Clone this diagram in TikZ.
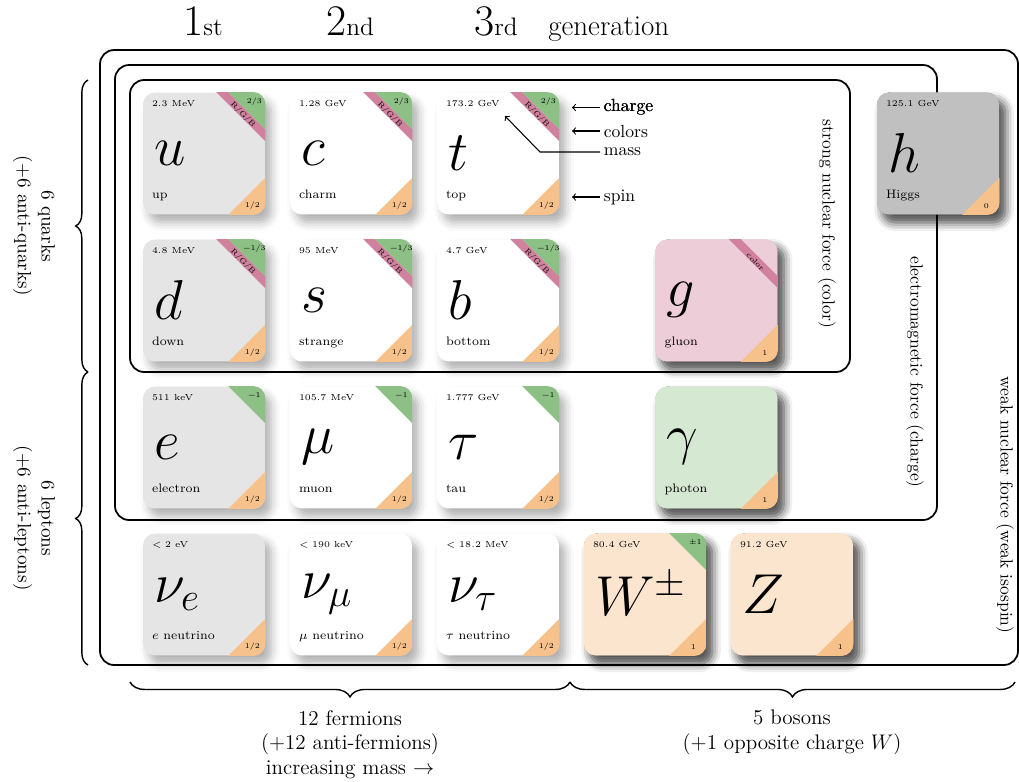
\RequirePackage{fix-cm}
\documentclass[tikz,border=0pt]{standalone}
\usepackage{tikz}
\usetikzlibrary{calc,shadows.blur,decorations.pathreplacing}
\definecolor{bandc}{HTML}{D0819E}
\definecolor{chargec}{HTML}{8CC084}
\definecolor{spinc}{HTML}{F6C18A}
\definecolor{firstf}{HTML}{E5E5E5}
\definecolor{higgsf}{HTML}{C0C0C0}
\definecolor{gluonf}{HTML}{ECCDD8}
\definecolor{photonf}{HTML}{D5E8D1}
\definecolor{bosonf}{HTML}{FBE5CE}
\newcommand{\crn}{\fontsize{4.2}{5}\selectfont}

% card: name, centre, fill, symbol, mass, label, spin
\newcommand{\particle}[7]{%
  \node[card=#3] (#1) at (#2) {};
  \begin{scope}
    \clip[rounded corners=6.8pt] (#1.north west) rectangle (#1.south east);
    \fill[spinc] ($(#1.south east)+(0,-37)$) -- (#1.south east) -- ($(#1.south east)+(-37,0)$) -- cycle;
  \end{scope}
  \node[cnr] (#1-spin) at ($(#1.south east)+(-13,-9)$) {#7};
  \node[sym] (#1-sym) at ($(#1.north west)+(11,61)$) {#4};
  \node[mass] (#1-mass) at ($(#1.north west)+(9,14)$) {#5};
  \node[lbl] (#1-name) at ($(#1.south west)+(9,-16)$) {#6};}
% green corner with the charge
\newcommand{\charge}[2]{%
  \begin{scope}
    \clip[rounded corners=6.8pt] (#1.north west) rectangle (#1.south east);
    \fill[chargec] ($(#1.north east)+(-37,0)$) -- (#1.north east) -- ($(#1.north east)+(0,37)$) -- cycle;
  \end{scope}
  \node[cnr] (#1-q) at ($(#1.north east)+(-11,9)$) {#2};}
% pink band with the colour charge
\newcommand{\colorband}[2]{%
  \fill[bandc] ($(#1.north east)+(-49,0)$) -- ($(#1.north east)+(-37,0)$)
    -- ($(#1.north east)+(0,37)$) -- ($(#1.north east)+(0,49)$) -- cycle;
  \node[cnr, rotate=-45] (#1-col) at ($(#1.north east)+(-22.5,22.5)$) {#2};}

\begin{document}
\begin{tikzpicture}[x=0.02cm, y=-0.02cm, >=to,
  card/.style={fill=#1, rounded corners=6.8pt, minimum size=2.44cm, inner sep=0pt,
               blur shadow={shadow xshift=3.5pt, shadow yshift=-4.5pt, shadow blur radius=5pt, shadow opacity=32}},
  card/.default=white,
  sym/.style={anchor=west, inner sep=0pt, font=\fontsize{32}{36}\selectfont},
  mass/.style={anchor=base west, inner sep=0pt, font=\tiny},
  lbl/.style={anchor=base west, inner sep=0pt, font=\scriptsize},
  cnr/.style={inner sep=0pt, font=\crn},
  frame/.style={draw, line width=1pt, rounded corners=8pt},
  brc/.style={decorate, decoration={brace, amplitude=#1}, line width=0.8pt},
  brc/.default=7pt,
  force/.style={rotate=-90, font=\normalsize},
  side/.style={rotate=-90, align=center, font=\fontsize{10.95}{13.6}\selectfont},
  note/.style={->, line width=0.6pt}]
\useasboundingbox (0,0) rectangle (1019,782);
% -- interaction boxes
\draw[frame] (100,50) rectangle (1018,665);
\draw[frame] (115,65) rectangle (937,520);
\draw[frame] (130,80) rectangle (850,372);
\node[force] (strongl) at (827,224) {strong nuclear force (color)};
\node[force] (eml) at (915,372) {electromagnetic force (charge)};
\node[force] (weakl) at (1005,505) {weak nuclear force (weak isospin)};
% -- generations
\node[anchor=base] (gen1) at (203,35) {{\Huge 1}{\Large st}};
\node[anchor=base] (gen2) at (350,35) {{\Huge 2}{\Large nd}};
\node[anchor=base] (gen3) at (496,35) {{\Huge 3}{\Large rd}};
\node[anchor=base west, inner sep=0pt, font=\fontsize{16.5}{20}\selectfont] (genl) at (548,35) {generation};
% -- quarks
\particle{u}{204,153.5}{firstf}{$u$}{2.3 MeV}{up}{1/2}
\particle{c}{351,153.5}{white}{$c$}{1.28 GeV}{charm}{1/2}
\particle{t}{498,153.5}{white}{$t$}{173.2 GeV}{top}{1/2}
\particle{d}{204,300.5}{firstf}{$d$}{4.8 MeV}{down}{1/2}
\particle{s}{351,300.5}{white}{$s$}{95 MeV}{strange}{1/2}
\particle{b}{498,300.5}{white}{$b$}{4.7 GeV}{bottom}{1/2}
\foreach \n in {u,c,t} {\colorband{\n}{R/G/B} \charge{\n}{2/3}}
\foreach \n in {d,s,b} {\colorband{\n}{R/G/B} \charge{\n}{−1/3}}
% -- leptons
\particle{e}{204,447.5}{firstf}{$e$}{511 keV}{electron}{1/2}
\particle{mu}{351,447.5}{white}{$\mu$}{105.7 MeV}{muon}{1/2}
\particle{tau}{498,447.5}{white}{$\tau$}{1.777 GeV}{tau}{1/2}
\particle{nue}{204,594.5}{firstf}{$\nu_e$}{$<2$ eV}{$e$ neutrino}{1/2}
\particle{numu}{351,594.5}{white}{$\nu_\mu$}{$<190$ keV}{$\mu$ neutrino}{1/2}
\particle{nutau}{498,594.5}{white}{$\nu_\tau$}{$<18.2$ MeV}{$\tau$ neutrino}{1/2}
\foreach \n in {e,mu,tau} \charge{\n}{−1}
% -- bosons
\particle{g}{716.5,300.5}{gluonf}{$g$}{}{gluon}{1}
\colorband{g}{color}
\particle{gamma}{716.5,447.5}{photonf}{$\gamma$}{}{photon}{1}
\particle{W}{645,594.5}{bosonf}{$W^{\pm}$}{80.4 GeV}{}{1}
\charge{W}{±1}
\particle{Z}{792,594.5}{bosonf}{$Z$}{91.2 GeV}{}{1}
\particle{h}{938,153.5}{higgsf}{$h$}{125.1 GeV}{Higgs}{0}
% -- legend
\node[anchor=west, inner sep=2pt] (lcharge) at (600,107.5) {charge};
\node[anchor=west, inner sep=2pt] (lcolors) at (600,131) {colors};
\node[anchor=west, inner sep=2pt] (lmass) at (600,152) {mass};
\node[anchor=west, inner sep=2pt] (lspin) at (600,197) {spin};
\coordinate (bend) at (540,152);
\draw[note] (lcharge.west) -- ++(-28,0);
\draw[note] (lcolors.west) -- ++(-28,0);
\draw[note] (lmass.west) -- (bend) -- (505,116);
\draw[note] (lspin.west) -- ++(-28,0);
% -- braces
\draw[brc] (88,372) -- (88,80);
\draw[brc] (88,665) -- (88,372);
\node[side] (quarksl) at (34,226) {6 quarks\\(+6 anti-quarks)};
\node[side] (leptonsl) at (34,518) {6 leptons\\(+6 anti-leptons)};
\draw[brc=8.5pt] (570,682) -- (130,682);
\draw[brc=8.5pt] (1015,682) -- (570,682);
\node[anchor=north, align=center, font=\large] (fermil) at (350,704)
  {12 fermions\\(+12 anti-fermions)\\increasing mass $\to$};
\node[anchor=north, align=center, font=\large] (bosonl) at (792,704)
  {5 bosons\\(+1 opposite charge $W$)};
\end{tikzpicture}
\end{document}
